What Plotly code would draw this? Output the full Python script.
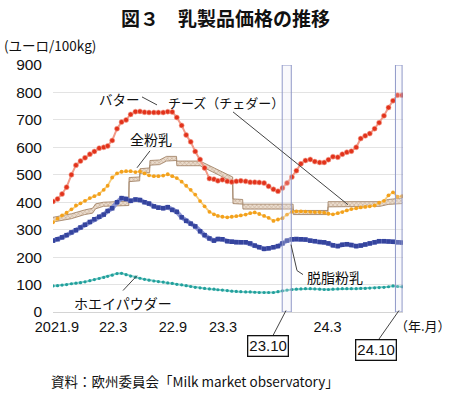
import plotly.graph_objects as go

# ---------------- data (semi-monthly: 1st and 16th of each month, Sep 2021 - Oct 2024) ----------------
months = [(2021, m) for m in range(9, 13)] + [(2022, m) for m in range(1, 13)] + \
         [(2023, m) for m in range(1, 13)] + [(2024, m) for m in range(1, 11)]
dates = []
for yy, mm in months:
    dates.append(f"{yy}-{mm:02d}-01")
    dates.append(f"{yy}-{mm:02d}-16")
dates.append("2024-10-31")

butter = [403, 412, 430, 455, 500, 535, 550, 562,
          575, 585, 597, 600, 605, 625, 668, 692, 700, 720, 730, 731, 728, 727, 727, 727,
          727, 730, 729, 709, 680, 645, 620, 585,
          556, 525, 486, 484, 478, 482, 476, 474, 476, 478, 476, 473, 473, 472, 470, 458,
          447, 440, 452, 470, 492, 515, 540, 552,
          556, 548, 545, 545, 555, 566, 564, 575, 582, 586, 600, 632, 642, 650, 668, 690,
          715, 745, 770, 790, 790]

wmp = [327, 340, 352, 362, 374, 388, 396, 405,
       415, 422, 430, 445, 460, 490, 505, 511, 513, 513, 510, 512, 505, 498, 495, 495,
       497, 502, 495, 488, 475, 460, 445, 428,
       404, 385, 365, 356, 350, 347, 345, 347, 349, 352, 355, 360, 363, 357, 350, 343,
       332, 337, 342, 355, 365, 367, 367, 366,
       365, 364, 364, 362, 358, 356, 360, 364, 370, 375, 378, 381, 383, 385, 388, 398,
       405, 425, 436, 420, 422]

smp = [260, 265, 272, 280, 290, 298, 308, 318,
       328, 338, 347, 355, 368, 378, 400, 415, 412, 405, 410, 408, 400, 395, 385, 380,
       378, 382, 372, 365, 345, 332, 322, 312,
       294, 280, 268, 260, 266, 265, 258, 256, 254, 254, 254, 250, 242, 236, 230, 232,
       236, 240, 250, 260, 265, 266, 265, 264,
       260, 258, 255, 254, 250, 243, 240, 245, 247, 244, 240, 242, 246, 250, 254, 258,
       258, 257, 256, 254, 253]

whey = [95, 96, 98, 100, 103, 105, 107, 110,
        114, 118, 122, 126, 130, 134, 140, 141, 136, 131, 127, 123, 119, 116, 113, 111,
        109, 106, 104, 101, 99, 96, 93, 90,
        88, 86, 84, 83, 81, 80, 78, 76, 75, 74, 73, 73, 72, 71, 71, 71,
        71, 74, 77, 80, 82, 83, 84, 85,
        85, 84, 83, 82, 82, 83, 84, 85, 85, 85, 85, 86, 86, 87, 88, 89,
        90, 92, 95, 93, 92]

cheese_dates = ["2021-09-01", "2021-11-01", "2021-12-15", "2022-01-10", "2022-01-20", "2022-02-15",
                "2022-05-10", "2022-05-11", "2022-06-15", "2022-06-16", "2022-07-18", "2022-07-19",
                "2022-08-20", "2022-09-12", "2022-10-15", "2022-10-16", "2023-01-01", "2023-03-31",
                "2023-04-19", "2023-04-20", "2023-05-22", "2023-05-23", "2023-11-05", "2023-11-06",
                "2024-02-28", "2024-02-29", "2024-08-19", "2024-09-15", "2024-10-31"]
cheese_low = [328, 340, 355, 360, 376, 385, 388, 475, 478, 505, 508, 535, 537, 550, 552, 533, 533,
              484, 474, 395, 393, 375, 375, 355, 355, 383, 385, 392, 395]
cheese_high = [345, 358, 372, 378, 394, 400, 404, 490, 492, 522, 525, 552, 554, 567, 567, 550, 550,
               502, 492, 412, 410, 393, 393, 370, 370, 402, 402, 410, 415]

tick_dates = ["2021-09-14", "2022-03-19", "2022-10-03", "2023-03-18", "2024-02-27"]
tick_text = ["2021.9", "22.3", "22.9", "23.3", "24.3"]

# ---------------- figure ----------------
W, H = 450, 394
L, R, T, B = 53, 403, 65, 312.5
def px(x): return (x - L) / (R - L)
def py(y): return (B - y) / (B - T)

JP = "Noto Sans CJK JP"
NUM = "Liberation Sans, Noto Sans CJK JP"

fig = go.Figure()

fig.add_trace(go.Scatter(x=cheese_dates, y=cheese_low, mode="lines",
                         line=dict(color="#9a7a5c", width=0.8), hoverinfo="skip", showlegend=False))
fig.add_trace(go.Scatter(x=cheese_dates, y=cheese_high, mode="lines", fill="tonexty",
                         line=dict(color="#9a7a5c", width=0.8),
                         fillcolor="#e6d6c4",
                         fillpattern=dict(shape="x", fgcolor="#a0785a", bgcolor="#eadccd",
                                          size=3, solidity=0.35),
                         name="チーズ（チェダー）", showlegend=False))

fig.add_trace(go.Scatter(x=dates, y=whey, mode="lines+markers", name="ホエイパウダー",
                         line=dict(color="#84d0cc", width=2),
                         marker=dict(size=3.2, color="#22a09c"), showlegend=False))
fig.add_trace(go.Scatter(x=dates, y=smp, mode="lines+markers", name="脱脂粉乳",
                         line=dict(color="#8c95d2", width=4.5),
                         marker=dict(size=4.5, symbol="square", color="#35449e"), showlegend=False))
fig.add_trace(go.Scatter(x=dates, y=wmp, mode="lines+markers", name="全粉乳",
                         line=dict(color="#f8cd7a", width=1.8),
                         marker=dict(size=3.8, color="#f3a11c"), showlegend=False))
fig.add_trace(go.Scatter(x=dates, y=butter, mode="lines+markers", name="バター",
                         line=dict(color="#f29a88", width=2),
                         marker=dict(size=5, color="#e2321b",
                                     line=dict(color="#f4a494", width=0.6)), showlegend=False))

shapes = []
# October highlight bands
for x0, x1 in [("2023-09-30", "2023-10-30"), ("2024-10-09", "2024-10-31")]:
    shapes.append(dict(type="rect", xref="x", yref="y", x0=x0, x1=x1, y0=0, y1=900,
                       line=dict(color="#8f98c8", width=1), fillcolor="rgba(230,232,245,0.25)",
                       layer="above"))
# leader lines (pixel coords)
for (xa, ya), (xb, yb) in [((142, 97), (157, 105)),
                           ((233, 112), (348, 205)),
                           ((150, 151), (137, 168)),
                           ((291, 245), (297, 271)),
                           ((297, 271), (303, 275)),
                           ((123, 291), (137, 276)),
                           ((272, 338), (286, 311)),
                           ((378, 341), (399, 311))]:
    shapes.append(dict(type="line", xref="paper", yref="paper",
                       x0=px(xa), y0=py(ya), x1=px(xb), y1=py(yb),
                       line=dict(color="#444444", width=1)))

ann = []
def add_text(text, x, y, size, xanchor="center", bold=False, box=False, family=JP):
    d = dict(text=f"<b>{text}</b>" if bold else text, xref="paper", yref="paper",
             x=px(x), y=py(y), xanchor=xanchor, yanchor="middle", showarrow=False,
             font=dict(family=family, size=size, color="#111111"))
    if box:
        d.update(bordercolor="#111111", borderwidth=1.3, borderpad=1, bgcolor="white")
    ann.append(d)

add_text("図３　乳製品価格の推移", 225, 17, 19, bold=True)
add_text("(ユーロ/100kg)", 2, 45, 13.5, xanchor="left")
add_text("バター", 119, 99, 13.5)
add_text("チーズ（チェダー）", 226, 103, 13)
add_text("全粉乳", 151, 139, 14)
add_text("脱脂粉乳", 335, 277, 14)
add_text("ホエイパウダー", 123, 303, 14)
add_text("（年.月）", 423, 326, 13)
add_text("23.10", 268, 347, 15, box=True, family=NUM)
add_text("24.10", 376, 351, 15, box=True, family=NUM)
add_text("資料：欧州委員会「Milk market observatory」", 49, 382, 13.5, xanchor="left")

fig.update_layout(
    width=W, height=H,
    margin=dict(l=L, r=W - R, t=T, b=H - B),
    paper_bgcolor="white", plot_bgcolor="white",
    shapes=shapes, annotations=ann,
    xaxis=dict(type="date", range=["2021-09-01", "2024-11-03"], tickvals=tick_dates,
               ticktext=tick_text, showgrid=False, showline=True, linecolor="#d4d4d4",
               ticks="", tickfont=dict(family=NUM, size=14.5, color="#111111"),
               ticklabelstandoff=2, zeroline=False),
    yaxis=dict(range=[0, 900], dtick=100, showgrid=True, gridcolor="#e3e3e3", gridwidth=1,
               zeroline=False, ticks="", ticklabelstandoff=10,
               tickfont=dict(family=NUM, size=15.5, color="#111111")),
)

fig.write_html("out.html", config={"displayModeBar": False},
               post_script="document.body.style.margin='0';")
